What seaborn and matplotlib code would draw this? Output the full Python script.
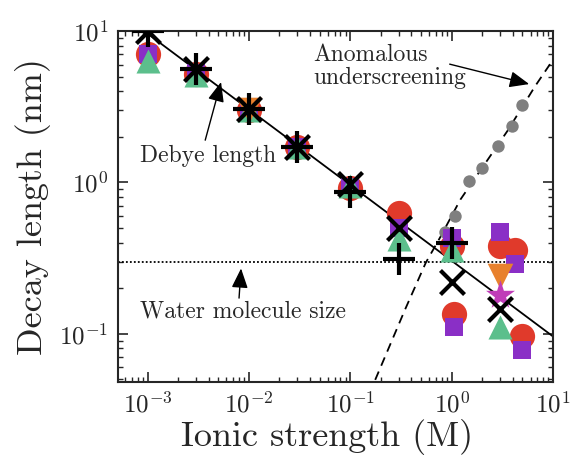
import numpy as np
import pandas as pd
import matplotlib
matplotlib.use("Agg")
import matplotlib.pyplot as plt
import seaborn as sns

# ---- data (x: ionic strength in M, y: decay length in nm) ----
circle_x = [1e-3, 3e-3, 1e-2, 3e-2, 0.1, 0.3, 1.0, 3.0, 4.2, 1.05, 5.0]
circle_y = [7.0, 5.2, 3.0, 1.7, 0.92, 0.63, 0.38, 0.38, 0.36, 0.135, 0.096]

square_x = [1e-3, 3e-3, 1e-2, 3e-2, 0.1, 0.3, 1.0, 3.0, 4.2, 1.05, 5.0]
square_y = [7.0, 5.3, 3.0, 1.7, 0.93, 0.50, 0.43, 0.47, 0.29, 0.11, 0.078]

tri_up_x = [1e-3, 3e-3, 1e-2, 3e-2, 0.1, 0.3, 1.0, 3.0]
tri_up_y = [6.3, 5.1, 3.0, 1.72, 0.95, 0.42, 0.36, 0.11]

tri_down_x = [1e-2, 3.0]
tri_down_y = [3.0, 0.24]

star_x = [3.0]
star_y = [0.18]

plus_x = [1e-3, 3e-3, 1e-2, 3e-2, 0.1, 0.3, 1.0]
plus_y = [10.0, 5.6, 3.05, 1.7, 0.87, 0.31, 0.40]

cross_x = [1e-3, 3e-3, 1e-2, 3e-2, 0.1, 0.3, 1.0, 3.0]
cross_y = [10.0, 5.6, 3.05, 1.7, 0.97, 0.50, 0.22, 0.145]

gray_x = [0.85, 1.09, 1.47, 1.97, 2.89, 3.96, 4.97]
gray_y = [0.47, 0.60, 1.02, 1.24, 1.73, 2.35, 3.24]

debye_x = [1e-3, 10.0]
debye_y = [9.6, 0.096]

under_x = [0.176, 0.188, 0.346, 0.556, 0.78, 1.22, 3.54, 6.66, 9.35, 10.0]
under_y = [0.0496, 0.055, 0.144, 0.295, 0.44, 0.77, 2.18, 4.32, 6.04, 6.4]

water_size = 0.3

x_ticks = [1e-3, 1e-2, 1e-1, 1e0, 1e1]
y_ticks = [1e-1, 1e0, 1e1]

# ---- style ----
sns.set_style("ticks")
plt.rcParams["font.family"] = ["cmr10", "DejaVu Serif"]
plt.rcParams["mathtext.fontset"] = "cm"
plt.rcParams["axes.formatter.use_mathtext"] = True
plt.rcParams["axes.unicode_minus"] = True

fig = plt.figure(figsize=(5.71, 4.58), dpi=100, facecolor="white")
ax = fig.add_axes([118 / 571, 1 - 382 / 458, (553 - 118) / 571, (382 - 31) / 458])
ax.set_xscale("log")
ax.set_yscale("log")

# reference lines
sns.lineplot(x=debye_x, y=debye_y, ax=ax, color="black", lw=1.3, zorder=2)
sns.lineplot(x=under_x, y=under_y, ax=ax, color="black", lw=1.3, zorder=2,
             linestyle=(0, (5, 3.5)), sort=False)
ax.axhline(water_size, color="black", lw=1.3, linestyle=(0, (1, 1.2)), zorder=2)

# markers
sns.scatterplot(x=gray_x, y=gray_y, ax=ax, color="#7f7f7f", s=80, linewidth=0, zorder=3)
sns.scatterplot(x=circle_x, y=circle_y, ax=ax, color="#e03a2b", marker="o", s=330, linewidth=0, zorder=3)
sns.scatterplot(x=square_x, y=square_y, ax=ax, color="#8a2fc6", marker="s", s=175, linewidth=0, zorder=3)
sns.scatterplot(x=tri_up_x, y=tri_up_y, ax=ax, color="#5cbf8c", marker="^", s=300, linewidth=0, zorder=3)
sns.scatterplot(x=tri_down_x, y=tri_down_y, ax=ax, color="#e8812d", marker="v", s=340, linewidth=0, zorder=3)
sns.scatterplot(x=star_x, y=star_y, ax=ax, color="#c03cb8", marker="*", s=480, linewidth=0, zorder=3)
sns.scatterplot(x=plus_x, y=plus_y, ax=ax, color="black", marker="+", s=540, linewidth=3, zorder=4)
sns.scatterplot(x=cross_x, y=cross_y, ax=ax, color="black", marker="x", s=300, linewidth=3, zorder=4)

# annotations
arrow = dict(arrowstyle="-|>,head_length=0.6,head_width=0.25", color="black",
             lw=1.0, mutation_scale=20, shrinkA=0, shrinkB=0)
ax.text(3.95e-3, 1.49, "Debye length", fontsize=17, ha="center", va="center")
ax.annotate("", xy=(5.3e-3, 4.6), xytext=(3.7e-3, 1.9), arrowprops=arrow)

ax.text(8.7e-3, 0.14, "Water molecule size", fontsize=17, ha="center", va="center")
ax.annotate("", xy=(8.35e-3, 0.27), xytext=(7.98e-3, 0.172), arrowprops=arrow)

ax.text(0.0434, 5.82, "Anomalous\nunderscreening", fontsize=17, ha="left", va="center",
        linespacing=1.05)
ax.annotate("", xy=(5.82, 4.46), xytext=(0.956, 6.04), arrowprops=arrow)

# axes
ax.set_xlim(5.1e-4, 10)
ax.set_ylim(0.048, 10)
ax.set_xticks(x_ticks)
ax.set_yticks(y_ticks)
ax.tick_params(which="both", direction="in", top=True, right=True, labelsize=18, pad=7)
ax.tick_params(which="major", length=7, width=1.2)
ax.tick_params(which="minor", length=3.5, width=1.0)
for sp in ax.spines.values():
    sp.set_linewidth(1.5)
ax.set_xlabel("Ionic strength (M)", fontsize=26)
ax.xaxis.set_label_coords(0.48, -0.105)
ax.set_ylabel("Decay length (nm)", fontsize=26, labelpad=6)

plt.savefig("out.png", dpi=100, facecolor="white")
plt.close()
